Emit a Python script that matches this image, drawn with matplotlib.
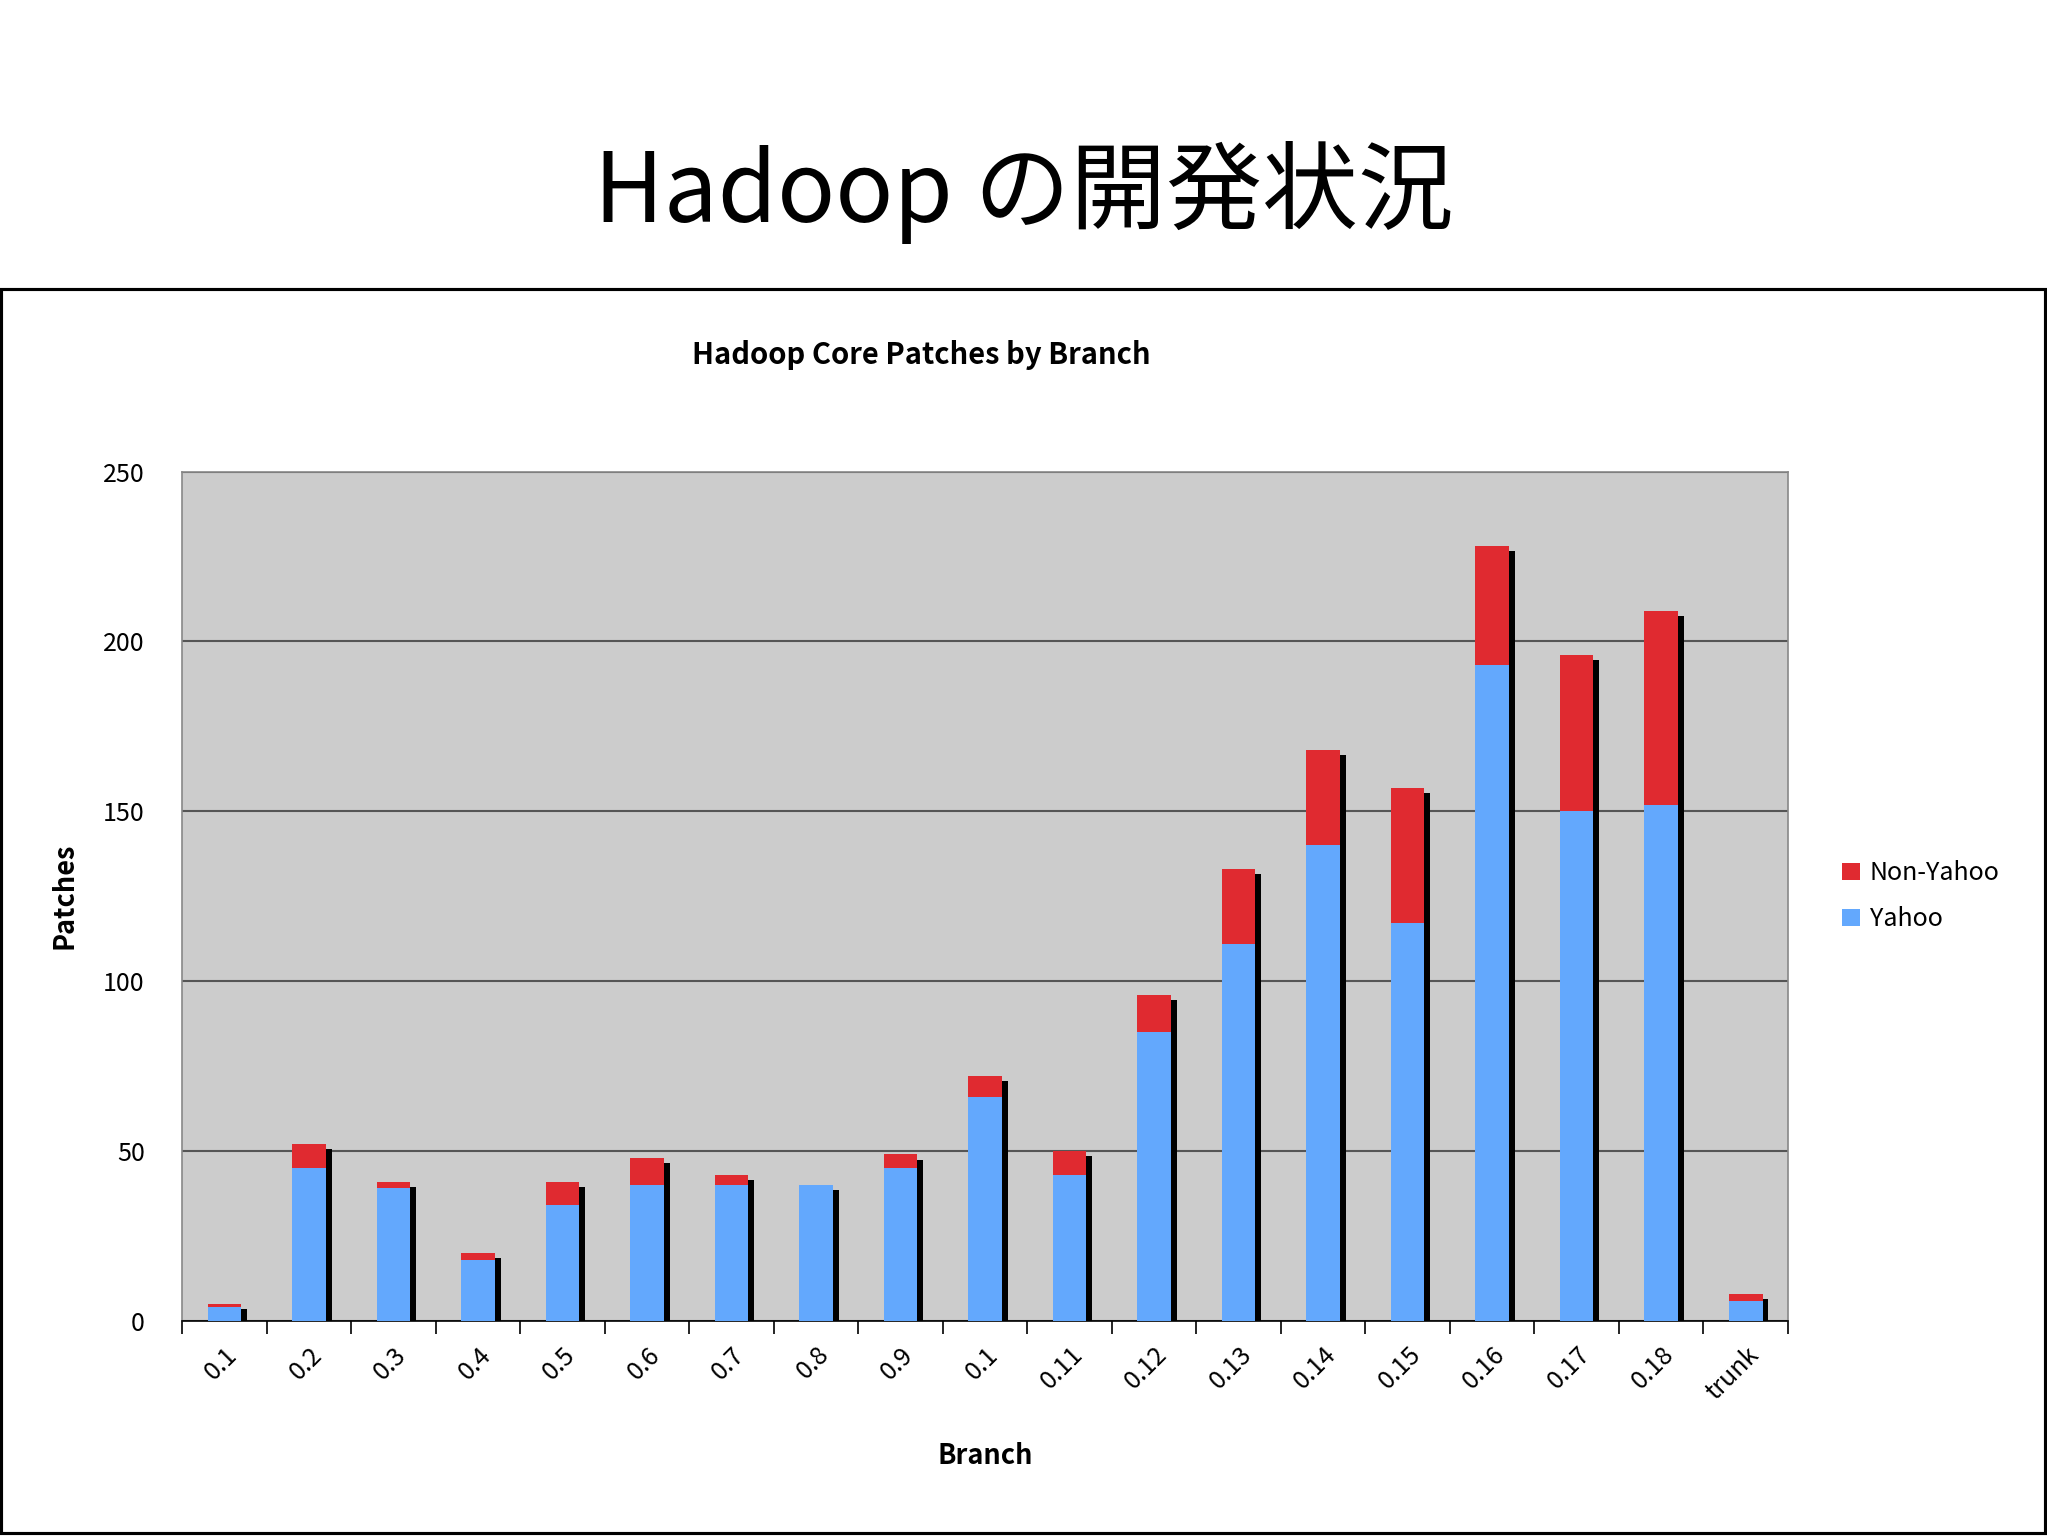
import matplotlib.pyplot as plt
import numpy as np
from matplotlib.patches import Rectangle

plt.rcParams['font.family'] = ['Noto Sans CJK JP', 'DejaVu Sans']

branches = ['0.1', '0.2', '0.3', '0.4', '0.5', '0.6', '0.7', '0.8', '0.9', '0.1',
            '0.11', '0.12', '0.13', '0.14', '0.15', '0.16', '0.17', '0.18', 'trunk']
yahoo = [4, 45, 39, 18, 34, 40, 40, 40, 45, 66, 43, 85, 111, 140, 117, 193, 150, 152, 6]
non_yahoo = [1, 7, 2, 2, 7, 8, 3, 0, 4, 6, 7, 11, 22, 28, 40, 35, 46, 57, 2]

BLUE = '#63a8fd'
RED = '#e02a30'

fig = plt.figure(figsize=(13.653, 10.24), dpi=150)
fig.text(0.5, 0.875, 'Hadoop の開発状況', ha='center', va='center', fontsize=46)
fig.patches.append(Rectangle((0.0005, 0.002), 0.998, 0.81, transform=fig.transFigure,
                             fill=False, edgecolor='black', lw=1.5))
fig.text(0.45, 0.769, 'Hadoop Core Patches by Branch', ha='center', va='center',
         fontsize=14, fontweight='bold')

ax = fig.add_axes([0.089, 0.140, 0.784, 0.553])
ax.set_facecolor('#cccccc')
x = np.arange(len(branches))
tot = np.array(yahoo) + np.array(non_yahoo)
w = 0.4
ax.bar(x + 0.07, tot - 1.5, w, color='black', zorder=2)
ax.bar(x, yahoo, w, color=BLUE, zorder=3, label='Yahoo')
ax.bar(x, non_yahoo, w, bottom=yahoo, color=RED, zorder=3, label='Non-Yahoo')
ax.set_xlim(-0.5, len(branches) - 0.5)
ax.set_ylim(0, 250)
ax.set_yticks(range(0, 251, 50))
ax.yaxis.grid(True, color='#555555', lw=1, zorder=1)
ax.set_xticks(np.arange(-0.5, len(branches)), minor=False)
ax.set_xticklabels([])
ax.set_xticks(x, minor=True)
ax.set_xticklabels(branches, minor=True, rotation=45, ha='right', rotation_mode='anchor')
ax.tick_params(axis='x', which='minor', length=0, labelsize=12, pad=10)
ax.tick_params(axis='x', which='major', length=6, direction='out')
ax.tick_params(axis='y', labelsize=12, length=0, pad=18)
for s in ['top', 'right']:
    ax.spines[s].set_color('#888888')
ax.spines['left'].set_color('#888888')
ax.set_xlabel('Branch', fontsize=13, fontweight='bold', labelpad=18)
ax.set_ylabel('Patches', fontsize=13, fontweight='bold', labelpad=12)
h, l = ax.get_legend_handles_labels()
ax.legend(h[::-1], l[::-1], loc='center left', bbox_to_anchor=(1.02, 0.5), frameon=False,
          fontsize=12, handlelength=0.7, handleheight=0.7, handletextpad=0.4, labelspacing=0.8)

fig.savefig('out.png', dpi=150, facecolor='white')
